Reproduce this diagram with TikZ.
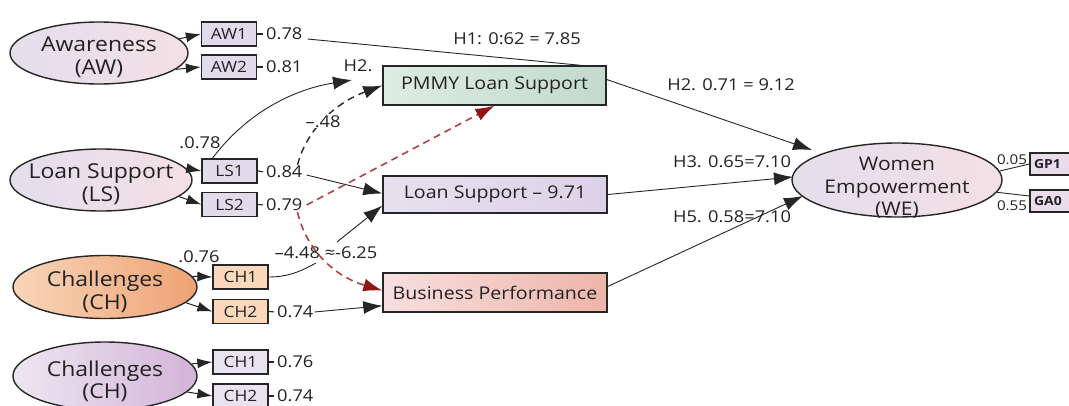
\documentclass[tikz,border=0pt]{standalone}
\usepackage{fontspec}
\setmainfont[FakeStretch=1.12]{Open Sans}
\usetikzlibrary{shapes.geometric,arrows.meta,calc}
\definecolor{lineC}{HTML}{262626}
\definecolor{textC}{HTML}{222222}
\definecolor{lavL}{HTML}{E2DFEB}
\definecolor{pinkR}{HTML}{F5DFE5}
\definecolor{orL}{HTML}{F8D6B8}
\definecolor{orR}{HTML}{EEA274}
\definecolor{puL}{HTML}{EDE6F1}
\definecolor{puR}{HTML}{D3B4D7}
\definecolor{pmL}{HTML}{DDECE4}
\definecolor{pmR}{HTML}{C3DACD}
\definecolor{lsL}{HTML}{E6E1EE}
\definecolor{lsR}{HTML}{DCD2E8}
\definecolor{bpL}{HTML}{F7DFDF}
\definecolor{bpR}{HTML}{EEB5A9}
\definecolor{indL}{HTML}{E2DBEC}
\definecolor{indO}{HTML}{F9D8BB}
\definecolor{indP}{HTML}{E9E3F0}
\definecolor{gpF}{HTML}{EADCEA}
\definecolor{redD}{HTML}{B23838}
\definecolor{redH}{HTML}{8E1616}
\newcommand\fsz[2]{\fontsize{#1}{#2}\selectfont}
\begin{document}
\begin{tikzpicture}[x=1pt,y=-1pt,
  lat/.style={ellipse, draw=lineC, line width=1.4pt, inner sep=0pt},
  latext/.style={align=center, text=textC, inner sep=0pt, font=\fsz{20.5}{23}},
  ind/.style={rectangle, draw=lineC, line width=1.3pt, minimum width=55, minimum height=24, inner sep=0pt, text=textC, font=\fsz{15.5}{15}},
  bigbox/.style={rectangle, draw=lineC, line width=1.4pt, inner sep=0pt, text=textC, font=\fsz{17.5}{17}},
  num/.style={inner sep=1pt, text=textC, font=\fsz{16.3}{16}},
  hlab/.style={inner sep=1pt, text=textC, font=\fsz{16.3}{16}},
  tick/.style={draw=lineC, line width=1.1pt, shorten >=2pt},
  con/.style={draw=lineC, line width=0.9pt},
  barr/.style={draw=lineC, line width=0.9pt, -{Latex[length=19pt,width=13pt]}},
  iarr/.style={draw=lineC, line width=1pt, -{Latex[length=15pt,width=10pt]}},
  bdash/.style={line width=1.4pt, dash pattern=on 7pt off 5pt},
  rarr/.style={draw=redD, line width=1.5pt, dash pattern=on 7pt off 5pt, -{Latex[length=19pt,width=13pt,color=redH]}}
]
\useasboundingbox (0,0) rectangle (1069,405);
\fill[white] (0,0) rectangle (1069,405);

% latent ellipses
\node[lat, minimum width=178, minimum height=62, left color=lavL, right color=pinkR] (aw) at (99,53) {};
\node[lat, minimum width=182, minimum height=62, left color=lavL, right color=pinkR] (ls) at (101,180) {};
\node[lat, minimum width=184, minimum height=63, left color=orL, right color=orR] (ch) at (105,287) {};
\node[lat, minimum width=184, minimum height=68, left color=puL, right color=puR] (chp) at (105,376) {};
\node[lat, minimum width=210, minimum height=74, left color=lavL, right color=pinkR] (we) at (897,180) {};
\node[latext] (awt) at (99,57) {Awareness\\(AW)};
\node[latext] (lst) at (101,184) {Loan Support\\(LS)};
\node[latext] (cht) at (105,292) {Challenges\\(CH)};
\node[latext, font=\fsz{20.5}{22}] (chpt) at (105,381) {Challenges\\(CH)};
\node[latext, font=\fsz{18.8}{22.5}] (wet) at (897,188) {Women\\Empowerment\\(WE)};

% indicator boxes
\node[ind, fill=indL] (aw1) at (229,34) {AW1};
\node[ind, fill=indL] (aw2) at (229,67) {AW2};
\node[ind, fill=indL] (ls1) at (229.5,171) {LS1};
\node[ind, fill=indL] (ls2) at (229.5,204.5) {LS2};
\node[ind, fill=indO] (ch1) at (240.5,277) {CH1};
\node[ind, fill=indO] (ch2) at (240.5,311.5) {CH2};
\node[ind, fill=indP] (chp1) at (240.5,362) {CH1};
\node[ind, fill=indP] (chp2) at (240.5,396) {CH2};
\node[ind, fill=gpF, minimum width=52, minimum height=22, text width=44, align=left, font=\bfseries\fsz{12.5}{12}] (gp1) at (1056,164) {GP1};
\node[ind, fill=gpF, minimum width=52, minimum height=22, text width=44, align=left, font=\bfseries\fsz{12.5}{12}] (ga0) at (1056,201) {GA0};

% construct boxes
\node[bigbox, minimum width=223, minimum height=39, left color=pmL, right color=pmR] (pmmy) at (494.5,85.5) {PMMY Loan Support};
\node[bigbox, minimum width=224, minimum height=37, left color=lsL, right color=lsR] (lsb) at (495,194.5) {Loan Support – 9.71};
\node[bigbox, minimum width=224, minimum height=39, left color=bpL, right color=bpR] (bp) at (495,292.5) {Business Performance};

% loadings
\node[num, anchor=west] (v078a) at (265,34) {0.78};
\node[num, anchor=west] (v081) at (265,67) {0.81};
\node[num, anchor=west] (v084) at (265,172) {0.84};
\node[num, anchor=west] (v079) at (265,205) {0.79};
\node[num, anchor=west] (v074a) at (276,312) {0.74};
\node[num, anchor=west] (v076b) at (276,362) {0.76};
\node[num, anchor=west] (v074b) at (276,396) {0.74};
\node[num] (v078b) at (200,143) {.0.78};
\node[num] (v076a) at (199,257) {.0.76};
\node[num, font=\fsz{13.5}{13}] (v005) at (1012,160) {0.05};
\node[num, font=\fsz{13.5}{13}] (v055) at (1012,206) {0.55};

% path labels
\node[hlab] (h1) at (517,39) {H1: 0:62 = 7.85};
\node[hlab] (h2a) at (358,66) {H2.};
\node[hlab] (h2b) at (731,85) {H2. 0.71 = 9.12};
\node[hlab] (h3) at (732,162) {H3. 0.65=7.10};
\node[hlab] (h5) at (732,217) {H5. 0.58=7.10};
\node[hlab] (m448) at (326,253) {–4.48 ≈-6.25};

% ticks
\draw[tick] (aw1.east) -- (v078a.west);
\draw[tick] (aw2.east) -- (v081.west);
\draw[tick] (ls1.east) -- (v084.west);
\draw[tick] (ls2.east) -- (v079.west);
\draw[tick] (ch2.east) -- (v074a.west);
\draw[tick] (chp1.east) -- (v076b.west);
\draw[tick] (chp2.east) -- (v074b.west);

% measurement arrows
\draw[iarr] (aw.10) -- (aw1.west);
\draw[iarr] (aw.-12) -- (aw2.west);
\draw[iarr] (ls.8) -- (ls1.west);
\draw[iarr] (ls.-12) -- (ls2.west);
\draw[iarr] (ch.7) -- (ch1.west);
\draw[iarr] (ch.-11) -- (ch2.west);
\draw[iarr] (chp.8) -- (chp1.west);
\draw[iarr] (chp.-11) -- (chp2.west);

% coordinates
\coordinate (h1end) at ($(pmmy.north east)+(-26,0)$);
\coordinate (h2tip) at (352,80);
\coordinate (c1a) at (316,263);
\coordinate (c1b) at (337,242);
\coordinate (we2) at (812,150);
\coordinate (we3) at (793,177);
\coordinate (we5) at (803,196);

% structural paths
\draw[con] ($(v078a.east)+(4,5)$) -- (h1end);
\draw[barr] ($(ls1.north west)+(11,0)$) .. controls (245,115) and (290,90) .. (h2tip);
\draw[barr, bdash] ($(v084.north east)+(-6,0)$) .. controls (305,135) and (330,105) .. (pmmy.west)
   node[hlab, pos=0.5, fill=white] (m48) {–.48};
\draw[barr] ($(v084.east)+(3,3)$) -- ($(lsb.west)+(0,-1)$);
\draw[rarr] ($(v079.east)+(3,0)$) -- (pmmy.south);
\draw[rarr] ($(v079.south east)+(-6,0)$) .. controls (305,245) and (330,275) .. ($(bp.west)+(0,-2)$);
\draw[con] (ch1.east) .. controls (290,277) and (303,270) .. (c1a);
\draw[barr] (c1b) -- ($(lsb.south west)+(0,-8)$);
\draw[barr] (v074a.east) -- ($(bp.south west)+(0,-7)$);
\draw[barr] ($(pmmy.east)+(0,-6)$) -- (we2);
\draw[barr] (lsb.east) -- (we3);
\draw[barr] ($(bp.east)+(0,-6)$) -- (we5);
\draw[con] (we.5) -- (gp1.west);
\draw[con] (we.-7) -- ($(ga0.west)+(0,-5)$);
\end{tikzpicture}
\end{document}
